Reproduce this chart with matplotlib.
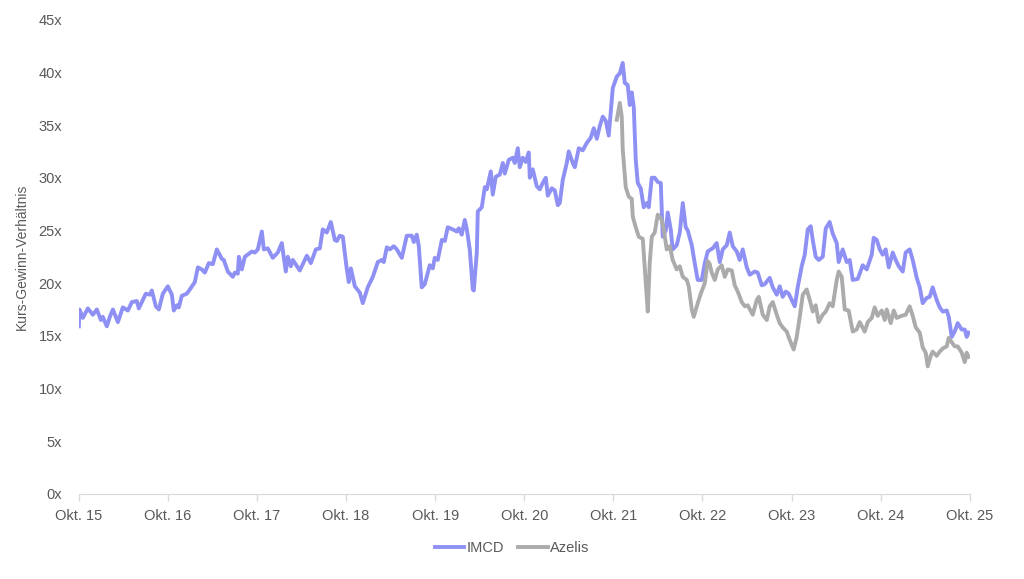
import matplotlib
matplotlib.use("Agg")
import matplotlib.pyplot as plt

# KGV, x = Jahr als Dezimalzahl
imcd_t = [2015.750, 2015.756, 2015.795, 2015.851, 2015.907, 2015.952, 2015.997, 2016.019,
          2016.064, 2016.098, 2016.132, 2016.188, 2016.244, 2016.300, 2016.345, 2016.401,
          2016.423, 2016.502, 2016.547, 2016.569, 2016.614, 2016.648, 2016.693, 2016.749,
          2016.794, 2016.816, 2016.850, 2016.872, 2016.906, 2016.962, 2016.996, 2017.052,
          2017.086, 2017.130, 2017.164, 2017.209, 2017.254, 2017.299, 2017.355, 2017.377,
          2017.422, 2017.478, 2017.501, 2017.534, 2017.546, 2017.579, 2017.613, 2017.692,
          2017.725, 2017.759, 2017.804, 2017.826, 2017.871, 2017.927, 2017.983, 2018.028,
          2018.073, 2018.096, 2018.129, 2018.152, 2018.230, 2018.309, 2018.354, 2018.410,
          2018.455, 2018.488, 2018.533, 2018.578, 2018.623, 2018.646, 2018.679, 2018.713,
          2018.758, 2018.780, 2018.803, 2018.848, 2018.904, 2018.937, 2018.993, 2019.050,
          2019.106, 2019.151, 2019.173, 2019.207, 2019.240, 2019.285, 2019.319, 2019.375,
          2019.431, 2019.487, 2019.510, 2019.543, 2019.566, 2019.599, 2019.633, 2019.689,
          2019.723, 2019.745, 2019.779, 2019.824, 2019.858, 2019.891, 2019.947, 2019.992,
          2020.015, 2020.048, 2020.082, 2020.105, 2020.138, 2020.172, 2020.183, 2020.217,
          2020.228, 2020.273, 2020.307, 2020.329, 2020.374, 2020.396, 2020.430, 2020.475,
          2020.509, 2020.531, 2020.576, 2020.621, 2020.643, 2020.677, 2020.699, 2020.733,
          2020.767, 2020.800, 2020.812, 2020.845, 2020.890, 2020.924, 2020.957, 2020.991,
          2021.014, 2021.058, 2021.092, 2021.126, 2021.148, 2021.182, 2021.227, 2021.249,
          2021.294, 2021.317, 2021.362, 2021.406, 2021.451, 2021.496, 2021.530, 2021.564,
          2021.597, 2021.631, 2021.665, 2021.698, 2021.743, 2021.788, 2021.822, 2021.855,
          2021.878, 2021.911, 2021.934, 2021.956, 2021.979, 2022.001, 2022.024, 2022.057,
          2022.091, 2022.125, 2022.147, 2022.181, 2022.214, 2022.248, 2022.282, 2022.304,
          2022.338, 2022.360, 2022.394, 2022.416, 2022.461, 2022.495, 2022.529, 2022.562,
          2022.585, 2022.630, 2022.663, 2022.697, 2022.742, 2022.776, 2022.809, 2022.843,
          2022.865, 2022.910, 2022.944, 2022.978, 2023.023, 2023.056, 2023.090, 2023.135,
          2023.168, 2023.202, 2023.247, 2023.281, 2023.337, 2023.370, 2023.415, 2023.449,
          2023.505, 2023.539, 2023.584, 2023.617, 2023.651, 2023.685, 2023.718, 2023.752,
          2023.786, 2023.819, 2023.864, 2023.898, 2023.932, 2023.965, 2023.988, 2024.021,
          2024.055, 2024.100, 2024.134, 2024.178, 2024.212, 2024.257, 2024.279, 2024.324,
          2024.369, 2024.403, 2024.437, 2024.493, 2024.549, 2024.594, 2024.650, 2024.672,
          2024.706, 2024.740, 2024.773, 2024.807, 2024.841, 2024.886, 2024.919, 2024.953,
          2024.998, 2025.031, 2025.076, 2025.110, 2025.155, 2025.189, 2025.222, 2025.267,
          2025.301, 2025.334, 2025.379, 2025.413, 2025.447, 2025.492, 2025.514, 2025.548,
          2025.581, 2025.615, 2025.660, 2025.694, 2025.716, 2025.738]
imcd_pe = [15.9, 17.5, 16.7, 17.6, 17.0, 17.5, 16.5, 16.8,
           15.9, 16.8, 17.5, 16.3, 17.7, 17.4, 18.2, 18.3,
           17.6, 19.0, 18.9, 19.3, 17.8, 17.5, 19.0, 19.7,
           18.9, 17.4, 17.9, 17.7, 18.8, 19.0, 19.4, 20.1,
           21.5, 21.3, 21.0, 21.9, 21.8, 23.2, 22.3, 22.2,
           21.1, 20.6, 21.0, 20.9, 22.5, 21.3, 22.5, 23.0,
           22.9, 23.2, 24.9, 23.2, 23.3, 22.4, 22.9, 23.8,
           21.1, 22.5, 21.6, 22.2, 21.2, 22.6, 21.9, 23.2,
           23.3, 25.1, 24.8, 25.8, 24.1, 24.0, 24.5, 24.4,
           21.3, 20.1, 21.4, 19.7, 19.1, 18.1, 19.6, 20.6,
           22.0, 22.2, 22.0, 23.4, 23.2, 23.5, 23.2, 22.4,
           24.5, 24.5, 23.9, 24.6, 23.5, 19.6, 19.9, 21.7,
           21.4, 22.4, 22.2, 24.1, 24.0, 25.3, 25.1, 24.9,
           25.2, 24.6, 26.0, 25.1, 23.2, 19.4, 19.3, 22.9,
           26.8, 27.2, 29.1, 28.9, 30.6, 28.4, 30.1, 30.3,
           31.4, 30.4, 31.7, 31.9, 31.4, 32.8, 31.0, 31.9,
           31.5, 32.4, 30.0, 30.8, 29.2, 28.9, 29.5, 30.0,
           28.3, 29.0, 28.8, 27.4, 27.6, 29.8, 31.4, 32.5,
           31.4, 31.0, 32.8, 32.6, 33.3, 33.8, 34.7, 33.7,
           34.9, 35.8, 35.4, 34.0, 38.5, 39.6, 39.9, 40.9,
           39.0, 38.8, 36.9, 38.1, 36.7, 31.7, 29.5, 29.0,
           27.2, 27.6, 27.2, 30.0, 30.0, 29.6, 29.5, 24.4,
           25.0, 26.7, 25.1, 23.2, 23.6, 24.8, 27.6, 25.3,
           25.0, 23.6, 21.9, 20.3, 20.3, 21.9, 23.0, 23.2,
           23.3, 23.8, 22.0, 23.2, 23.6, 24.8, 23.5, 23.0,
           22.2, 23.2, 21.5, 20.8, 21.1, 21.0, 19.8, 19.9,
           20.5, 19.6, 18.9, 19.7, 18.7, 19.2, 19.0, 18.4,
           17.8, 19.6, 21.6, 22.7, 25.1, 25.4, 24.1, 22.5,
           22.2, 22.5, 25.2, 25.8, 24.7, 23.8, 22.0, 23.2,
           22.0, 22.2, 20.3, 20.4, 21.7, 21.3, 22.7, 24.3,
           24.1, 23.2, 22.7, 23.2, 21.5, 22.9, 22.2, 21.6,
           21.1, 22.9, 23.2, 22.2, 20.5, 19.6, 18.1, 18.6,
           18.7, 19.6, 18.4, 17.7, 17.3, 17.4, 16.8, 14.9,
           15.4, 16.2, 15.6, 15.6, 14.9, 15.3]

azelis_t = [2021.788, 2021.822, 2021.844, 2021.855, 2021.889, 2021.923, 2021.956, 2021.968,
            2022.001, 2022.035, 2022.080, 2022.114, 2022.136, 2022.158, 2022.181, 2022.214,
            2022.248, 2022.293, 2022.315, 2022.349, 2022.383, 2022.416, 2022.461, 2022.495,
            2022.529, 2022.574, 2022.596, 2022.630, 2022.652, 2022.697, 2022.731, 2022.776,
            2022.809, 2022.832, 2022.854, 2022.888, 2022.922, 2022.966, 2023.000, 2023.034,
            2023.079, 2023.112, 2023.146, 2023.191, 2023.225, 2023.258, 2023.314, 2023.359,
            2023.382, 2023.427, 2023.472, 2023.505, 2023.539, 2023.584, 2023.617, 2023.651,
            2023.696, 2023.730, 2023.774, 2023.808, 2023.842, 2023.876, 2023.920, 2023.954,
            2023.988, 2024.021, 2024.055, 2024.100, 2024.134, 2024.178, 2024.212, 2024.257,
            2024.279, 2024.313, 2024.347, 2024.391, 2024.437, 2024.481, 2024.515, 2024.571,
            2024.605, 2024.650, 2024.683, 2024.717, 2024.762, 2024.796, 2024.818, 2024.863,
            2024.897, 2024.930, 2024.986, 2025.031, 2025.076, 2025.110, 2025.144, 2025.189,
            2025.222, 2025.256, 2025.278, 2025.312, 2025.334, 2025.379, 2025.413, 2025.447,
            2025.492, 2025.514, 2025.548, 2025.581, 2025.615, 2025.660, 2025.694, 2025.716,
            2025.738]
azelis_pe = [35.5, 37.1, 35.8, 32.7, 29.1, 28.2, 28.0, 26.3,
             25.3, 24.4, 24.2, 20.0, 17.3, 21.9, 24.4, 24.8,
             26.5, 26.0, 25.1, 23.2, 23.5, 22.2, 21.3, 21.6,
             20.6, 20.3, 19.7, 17.5, 16.8, 18.1, 19.0, 20.0,
             22.1, 21.8, 21.0, 20.3, 21.3, 21.7, 20.6, 21.3,
             21.2, 19.8, 19.2, 18.2, 17.8, 17.9, 17.0, 18.4,
             18.7, 17.0, 16.5, 17.8, 18.2, 17.0, 16.2, 15.8,
             15.4, 14.6, 13.7, 14.9, 16.8, 18.9, 19.4, 18.4,
             17.3, 17.9, 16.3, 17.0, 17.3, 18.1, 17.8, 20.3,
             21.1, 20.6, 17.5, 17.4, 15.4, 15.6, 16.3, 15.4,
             16.3, 16.7, 17.7, 16.9, 17.4, 16.5, 17.5, 16.2,
             17.4, 16.7, 16.9, 17.0, 17.8, 16.9, 15.8, 15.3,
             13.9, 13.4, 12.1, 13.1, 13.5, 13.1, 13.5, 13.8,
             14.0, 14.8, 14.4, 14.0, 14.0, 13.4, 12.5, 13.4,
             13.0]

year_ticks = [2015.75 + i for i in range(11)]
year_labels = ["Okt. %d" % (15 + i) for i in range(11)]
y_ticks = list(range(0, 46, 5))
y_labels = ["%dx" % v for v in y_ticks]

plt.rcParams['font.family'] = ['Liberation Sans', 'DejaVu Sans']
grey_txt = '#595959'

fig = plt.figure(figsize=(10.24, 5.79), dpi=100)
ax = fig.add_axes([0.077, 0.147, 0.870, 0.819])

ax.plot(imcd_t, imcd_pe, color='#8E90F4', lw=2.8, label='IMCD', solid_joinstyle='round')
ax.plot(azelis_t, azelis_pe, color='#ABABAB', lw=2.8, label='Azelis', solid_joinstyle='round')

ax.set_xlim(2015.75, 2025.75)
ax.set_ylim(0, 45)
ax.set_xticks(year_ticks)
ax.set_xticklabels(year_labels)
ax.set_yticks(y_ticks)
ax.set_yticklabels(y_labels)

for s in ['top', 'right', 'left']:
    ax.spines[s].set_visible(False)
ax.spines['bottom'].set_color('#D9D9D9')
ax.tick_params(axis='x', colors='#D9D9D9', length=5, width=1, labelcolor=grey_txt,
               labelsize=10.5, pad=6)
ax.tick_params(axis='y', length=0, labelcolor=grey_txt, labelsize=10.5, pad=12)
ax.set_ylabel('Kurs-Gewinn-Verhältnis', color=grey_txt, fontsize=10, labelpad=7)

leg = fig.legend(loc='center', bbox_to_anchor=(0.5, 0.053), ncol=2, frameon=False,
                 handlelength=2.0, handletextpad=0.15, columnspacing=1.0, fontsize=10.5)
for t in leg.get_texts():
    t.set_color(grey_txt)

fig.savefig('out.png', dpi=100)
